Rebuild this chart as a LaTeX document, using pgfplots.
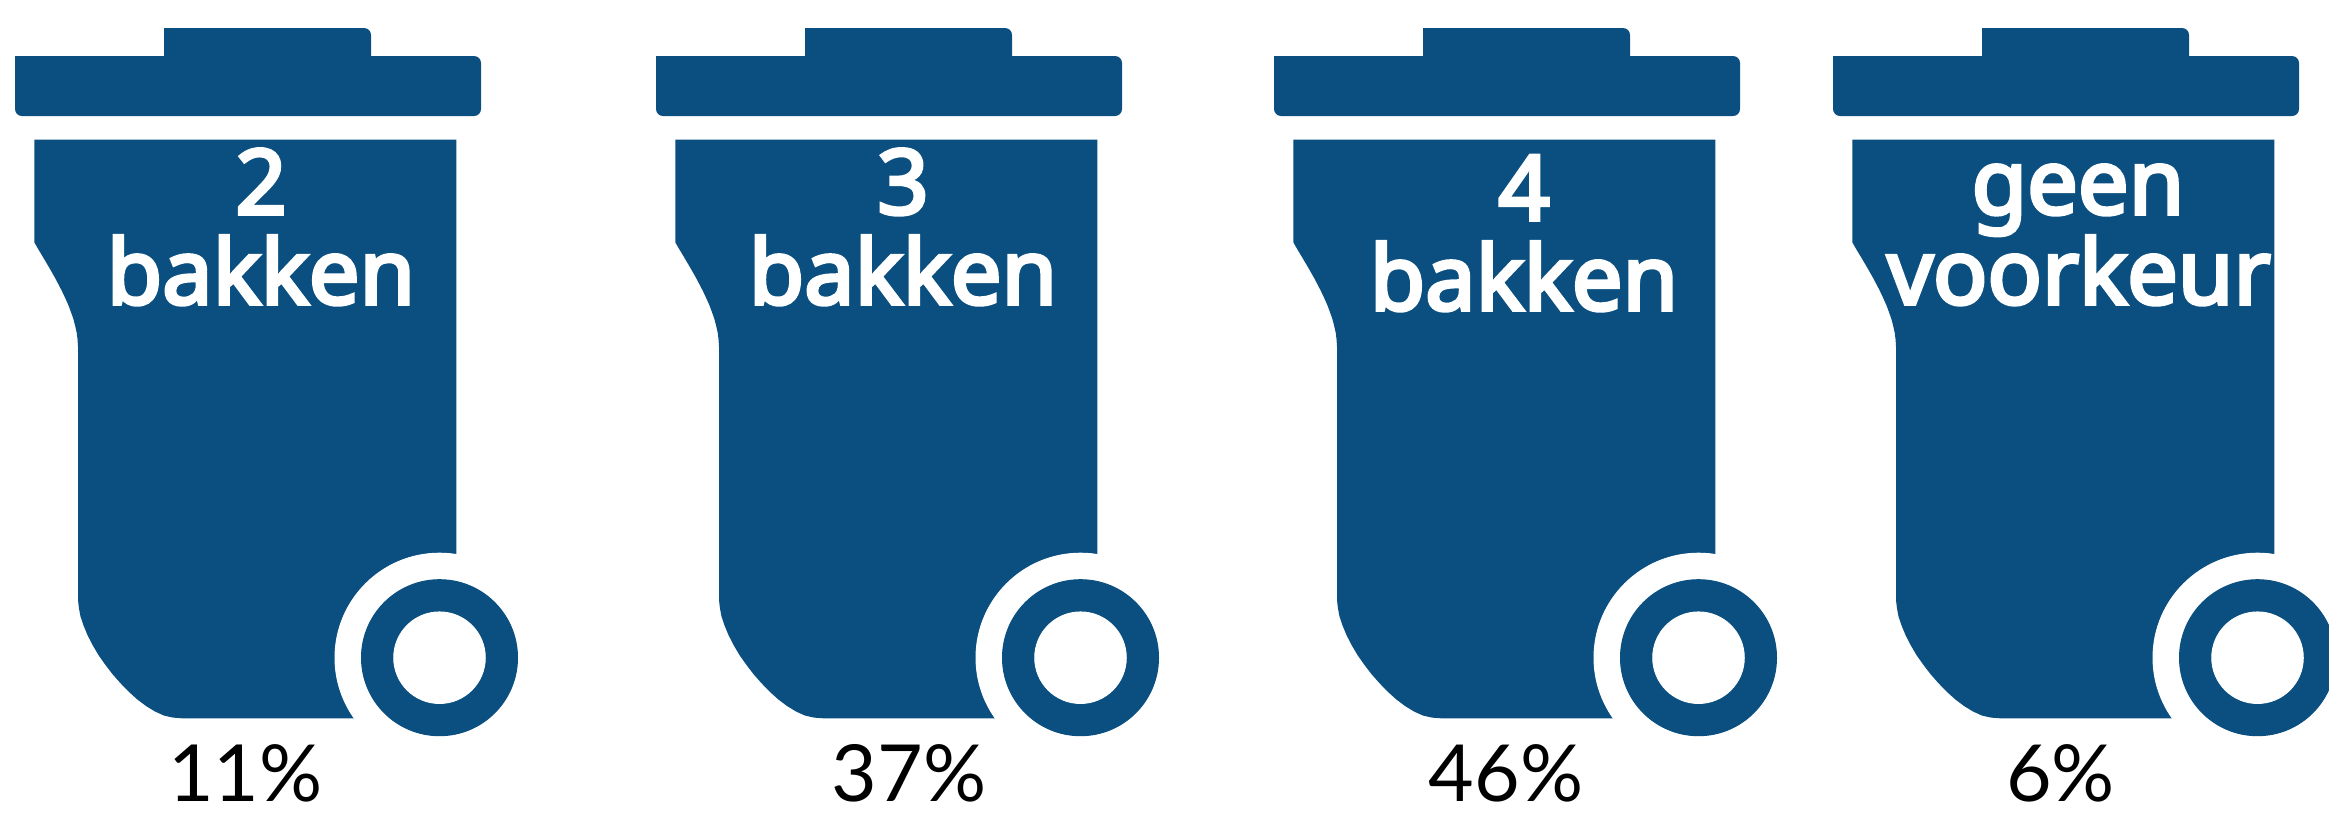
\documentclass[border=0pt]{standalone}
\usepackage{pgfplots}
\pgfplotsset{compat=1.18}
\usepackage{pgfplotstable}
\usepackage{fontspec}
\setmainfont{Lato}
\newfontfamily\binfont[FakeBold=4]{Noto Sans}
\definecolor{binblue}{HTML}{0A4F80}

% outline of one bin body, in pixels of the reference (bin 1)
\pgfplotstableread{
x y
34.3 139.5
456.4 139.5
456.4 718.3
182 718.3
173 717.6
164.1 715.6
155 711.5
146 706
137 699.2
128.4 691.4
120.2 682.9
112.4 674
105.2 664.6
98.5 655.1
92.7 645.2
87.6 635.3
83.7 625.9
80.5 616.5
78.9 608
78 600
78 347
77.6 340
76.8 333.1
75.2 326
73.4 319
70.9 311.9
68.3 304.9
65.2 298
62 291.2
58.5 284.4
55 277.8
51.4 271.4
47.75 265.1
44.2 259.1
40.7 253.2
37.4 247.7
34.3 242.3
34.3 139.5
}\binbody

\pgfplotstableread{
x y
15 56
481 56
481 116
15 116
15 56
}\binlid

\pgfplotstableread{
x y
164 28
371 28
371 80
164 80
164 28
}\binhandle

\pgfplotstableread{
x y
439.5 657.7
}\binwheel

\newcommand{\binlabel}[3]{\node[anchor=base,text=white,font=\binfont\fontsize{36}{40}\selectfont] at (axis cs:#1,#2) {#3};}
\newcommand{\binshare}[2]{\node[anchor=base,font=\fontsize{31.5}{36}\selectfont] at (axis cs:#1,801.7) {#2};}

\begin{document}
\begin{tikzpicture}
\useasboundingbox (0,0) rectangle (931.6pt,326pt);
\begin{axis}[
    hide axis,
    scale only axis,
    width=931.6pt, height=326pt,
    xmin=0, xmax=2329,
    ymin=0, ymax=815,
    y dir=reverse,
  ]
  \pgfplotsinvokeforeach{0,641,1259,1818}{
    \addplot[fill=binblue, draw=none, rounded corners=2.8pt]
      table[x expr=\thisrow{x}+#1, y=y] {\binhandle};
    \addplot[fill=binblue, draw=none, rounded corners=2.8pt]
      table[x expr=\thisrow{x}+#1, y=y] {\binlid};
    \addplot[fill=binblue, draw=none]
      table[x expr=\thisrow{x}+#1, y=y] {\binbody};
    \addplot[only marks, color=white, mark=*, mark size=41.8pt, mark options={fill=white, draw=white}]
      table[x expr=\thisrow{x}+#1, y=y] {\binwheel};
    \addplot[only marks, color=binblue, mark=*, mark size=31.2pt, mark options={fill=binblue, draw=binblue}]
      table[x expr=\thisrow{x}+#1, y=y] {\binwheel};
    \addplot[only marks, color=white, mark=*, mark size=18.3pt, mark options={fill=white, draw=white}]
      table[x expr=\thisrow{x}+#1, y=y] {\binwheel};
  }
  \binlabel{261}{214}{2}
  \binlabel{261}{304}{bakken}
  \binlabel{903}{214}{3}
  \binlabel{903}{304}{bakken}
  \binlabel{1524}{220}{4}
  \binlabel{1524}{310}{bakken}
  \binlabel{2078}{214}{geen}
  \binlabel{2079}{304}{voorkeur}
  \binshare{245.5}{11\%}
  \binshare{909}{37\%}
  \binshare{1506}{46\%}
  \binshare{2060.5}{6\%}
\end{axis}
\end{tikzpicture}
\end{document}
